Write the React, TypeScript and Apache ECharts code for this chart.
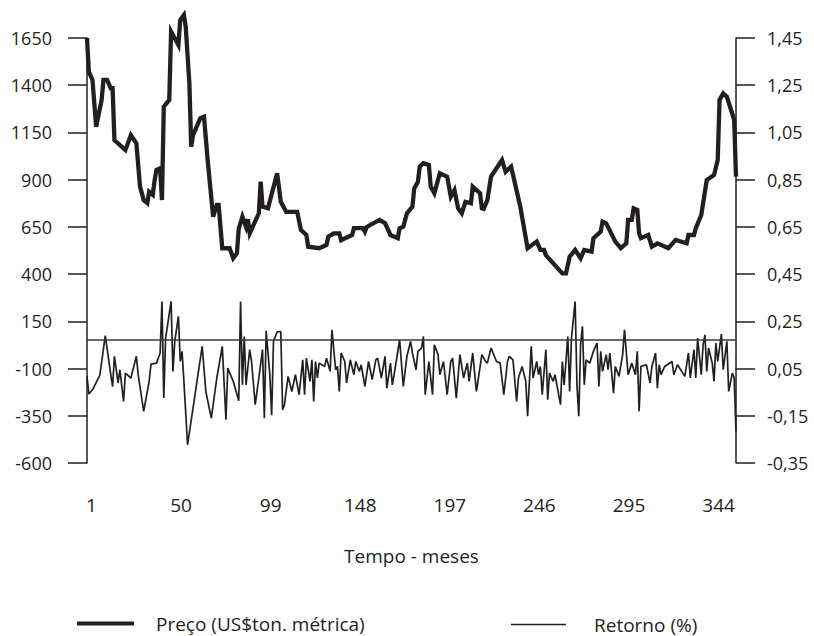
import React, { useEffect, useRef } from "react";
import * as echarts from "echarts";

const FONT = "'Open Sans', 'Noto Sans', sans-serif";
const INK = "#231f20";

// [month index (0 = month 1), price US$/ton]
const pricePoints: [number, number][] = [
  [0,1650],[1,1472],[3,1428],[5,1180],[8,1322],[9,1428],[11,1428],[13,1384],[14,1384],[15,1110],
  [21,1057],[24,1136],[27,1093],[29,863],[31,792],[33,776],[34,836],[36,820],[37,898],[38,951],
  [40,960],[41,792],[42,1286],[45,1322],[46,1684],[50,1613],[51,1745],[53,1772],[54,1710],[56,1410],
  [57,1075],[58,1136],[62,1226],[64,1233],[66,1004],[69,704],[71,766],[72,766],[74,537],[78,537],
  [80,484],[82,510],[83,640],[85,704],[87,650],[88,690],[89,616],[94,722],[95,889],[96,757],
  [99,748],[104,934],[106,783],[109,730],[115,730],[117,634],[120,607],[121,545],[127,537],[131,554],
  [132,598],[135,616],[138,616],[139,580],[145,607],[146,643],[151,643],[152,625],[153,650],[160,687],
  [163,670],[166,607],[170,590],[171,643],[173,651],[175,722],[178,757],[179,854],[181,889],[182,969],
  [184,987],[187,978],[188,863],[190,828],[191,863],[193,934],[197,916],[199,810],[201,845],[203,748],
  [205,722],[207,783],[210,775],[211,863],[215,828],[216,748],[217,745],[219,792],[221,916],[227,1004],
  [229,942],[232,969],[237,757],[241,537],[246,572],[248,528],[250,528],[251,500],[260,404],[262,404],
  [264,492],[267,528],[270,484],[272,528],[276,519],[277,590],[281,625],[282,678],[284,669],[289,572],
  [292,537],[295,563],[296,687],[298,687],[299,748],[301,740],[302,616],[303,590],[307,607],[309,545],
  [312,563],[318,537],[322,581],[328,563],[329,607],[332,607],[333,643],[336,713],[339,898],[343,925],
  [345,1004],[346,1322],[348,1357],[350,1339],[352,1278],[354,1216],[355,916],
];

// [month index (0 = month 1), return]
const returnPoints: [number, number][] = [
  [0,-0.153],[1,-0.228],[3,-0.210],[7,-0.149],[10,0.020],[13,-0.146],[14,-0.196],[15,-0.068],[17,-0.181],[18,-0.125],
  [20,-0.259],[21,-0.139],[24,-0.160],[27,-0.068],[28,-0.146],[31,-0.301],[34,-0.174],[35,-0.101],[38,-0.097],[40,-0.054],
  [41,0.164],[42,-0.245],[43,0.009],[46,0.164],[47,-0.132],[48,-0.005],[50,0.101],[51,-0.090],[52,-0.047],[53,-0.174],
  [55,-0.443],[63,-0.026],[65,-0.217],[68,-0.330],[71,-0.160],[74,-0.026],[76,-0.337],[77,-0.118],[80,-0.174],[83,-0.256],
  [84,0.164],[85,-0.189],[86,0.016],[87,-0.189],[89,-0.040],[90,-0.090],[92,-0.273],[94,-0.160],[96,-0.040],[97,-0.330],
  [98,0.040],[100,-0.146],[101,-0.318],[102,-0.005],[104,0.035],[106,0.037],[107,-0.294],[108,-0.273],[110,-0.153],[112,-0.217],
  [114,-0.146],[116,-0.231],[118,-0.083],[119,-0.231],
  [120,-0.076],[122,-0.174],[123,-0.083],[124,-0.259],[125,-0.090],[126,-0.160],[127,-0.097],[130,-0.111],[131,-0.076],[133,-0.132],
  [134,0.044],[136,-0.125],[137,-0.111],[138,-0.217],[139,-0.054],[141,-0.090],[142,-0.181],[144,-0.083],[146,-0.146],[147,-0.090],
  [149,-0.132],[150,-0.104],[152,-0.196],[154,-0.090],[156,-0.167],[158,-0.083],[159,-0.076],[161,-0.160],[163,-0.068],[164,-0.203],
  [166,-0.097],[167,-0.189],[168,-0.146],[171,0.002],[173,-0.196],[175,-0.068],[177,-0.005],[178,-0.054],[180,-0.125],[181,-0.047],
  [183,-0.033],[184,0.016],[185,-0.231],[187,-0.090],[189,-0.231],[190,-0.019],[192,-0.061],[193,-0.146],[195,-0.090],[197,-0.231],
  [199,-0.090],[200,-0.076],[202,-0.245],[204,-0.061],[206,-0.160],[208,-0.097],[209,-0.174],[211,-0.054],[213,-0.217],[216,-0.061],
  [218,-0.090],[219,-0.097],[221,-0.033],[224,-0.090],[226,-0.097],[228,-0.231],[230,-0.090],[231,-0.068],[233,-0.083],[235,-0.259],
  [236,-0.160],[238,-0.111],[240,-0.174],[241,-0.322],[243,-0.026],[244,-0.160],[246,-0.090],[247,-0.146],[248,-0.111],[249,-0.231],
  [251,-0.040],[252,-0.252],[253,-0.139],[255,-0.174],[256,-0.146],[259,-0.273],[260,-0.090],[261,-0.189],[263,0.016],[264,-0.217],
  [265,0.009],[267,0.164],[268,-0.189],[269,-0.322],[270,-0.019],[271,0.059],[272,-0.189],[273,-0.083],[275,-0.097],[277,-0.047],
  [279,-0.012],[280,-0.196],[281,-0.047],[282,-0.132],[284,-0.061],[285,-0.125],[286,-0.054],[288,-0.224],[289,-0.111],[291,-0.153],
  [293,-0.061],[294,0.044],[296,-0.146],[298,-0.097],[300,-0.146],[301,-0.047],[302,-0.301],[303,-0.111],[306,-0.104],[308,-0.181],
  [309,-0.111],[311,-0.054],[312,-0.203],[313,-0.104],[314,-0.146],[316,-0.111],[320,-0.090],[321,-0.146],[323,-0.104],[327,-0.153],
  [329,-0.054],[330,-0.160],[332,-0.040],[333,-0.160],[334,0.009],[336,-0.146],[337,-0.019],[338,0.023],[339,-0.132],[340,-0.033],
  [342,-0.097],[343,-0.174],[344,-0.012],[345,-0.090],[347,0.026],[348,-0.125],[350,-0.005],[351,-0.217],[353,-0.139],[354,-0.160],
  [355,-0.386],
];

const monthTicks = [1, 50, 99, 148, 197, 246, 295, 344];
const priceTicks = [-600, -350, -100, 150, 400, 650, 900, 1150, 1400, 1650];
const rightTicks = [-0.35, -0.15, 0.05, 0.25, 0.45, 0.65, 0.85, 1.05, 1.25, 1.45];

const PRICE_NAME = "Preço (US$ton. métrica)";
const RETURN_NAME = "Retorno (%)";

export default function App() {
  const ref = useRef<HTMLDivElement>(null);

  useEffect(() => {
    document.body.style.margin = "0";
    if (!ref.current) return;
    const chart = echarts.init(ref.current, undefined, { renderer: "svg" });

    const yAxisCommon = {
      type: "value",
      splitLine: { show: false },
      axisLine: { show: true, lineStyle: { color: INK, width: 1.5 } },
      axisTick: { show: true, inside: false, length: 19, lineStyle: { color: INK, width: 1.5 } },
    };

    chart.setOption({
      animation: false,
      backgroundColor: "#ffffff",
      textStyle: { fontFamily: FONT, color: INK },
      grid: { left: 87, right: 78, top: 38, bottom: 173, containLabel: false },
      legend: [
        {
          left: 77,
          top: 614,
          padding: 0,
          data: [PRICE_NAME],
          icon: "rect",
          itemWidth: 57,
          itemHeight: 4,
          selectedMode: false,
          textStyle: { fontFamily: FONT, fontSize: 19, color: INK, padding: [0, 0, 0, 17] },
        },
        {
          left: 511,
          top: 615,
          padding: 0,
          data: [RETURN_NAME],
          icon: "rect",
          itemWidth: 55,
          itemHeight: 1.6,
          selectedMode: false,
          textStyle: { fontFamily: FONT, fontSize: 19, color: INK, padding: [0, 0, 0, 23] },
        },
      ],
      xAxis: {
        type: "value",
        min: 1,
        max: 356,
        name: "Tempo - meses",
        nameLocation: "middle",
        nameGap: 83,
        nameTextStyle: { fontFamily: FONT, fontSize: 19, color: INK },
        axisLine: { show: false },
        axisTick: { show: false },
        splitLine: { show: false },
        axisLabel: {
          customValues: monthTicks,
          fontFamily: FONT,
          fontSize: 19,
          color: INK,
          margin: 32,
          padding: [0, 0, 0, 9],
          formatter: (v: number) => String(v),
        },
      },
      yAxis: [
        {
          ...yAxisCommon,
          position: "left",
          min: -600,
          max: 1650,
          axisTick: { ...yAxisCommon.axisTick, customValues: priceTicks },
          axisLabel: {
            customValues: priceTicks,
            fontFamily: FONT,
            fontSize: 18,
            color: INK,
            margin: 35,
            padding: [4, 0, 0, 0],
            formatter: (v: number) => String(v),
          },
        },
        {
          ...yAxisCommon,
          position: "right",
          min: -0.35,
          max: 1.45,
          axisTick: { ...yAxisCommon.axisTick, customValues: rightTicks },
          axisLabel: {
            customValues: rightTicks,
            fontFamily: FONT,
            fontSize: 18,
            color: INK,
            margin: 31,
            padding: [4, 0, 0, 0],
            formatter: (v: number) => v.toFixed(2).replace(".", ","),
          },
        },
        {
          type: "value",
          show: false,
          min: -0.52,
          max: 1.28,
          splitLine: { show: false },
        },
      ],
      series: [
        {
          name: PRICE_NAME,
          type: "line",
          yAxisIndex: 0,
          data: pricePoints.map(([i, v]) => [i + 1, v]),
          symbol: "none",
          showSymbol: false,
          clip: false,
          color: INK,
          lineStyle: { color: INK, width: 4.3, join: "miter" },
          z: 3,
        },
        {
          name: RETURN_NAME,
          type: "line",
          yAxisIndex: 2,
          data: returnPoints.map(([i, v]) => [i + 1, v]),
          symbol: "none",
          showSymbol: false,
          clip: false,
          color: INK,
          lineStyle: { color: INK, width: 1.7 },
          markLine: {
            silent: true,
            symbol: ["none", "none"],
            label: { show: false },
            lineStyle: { color: "#3a3637", width: 1.5, type: "solid" },
            data: [{ yAxis: 0 }],
          },
          z: 2,
        },
      ],
    });

    return () => chart.dispose();
  }, []);

  return <div ref={ref} style={{ width: 814, height: 636 }} />;
}
